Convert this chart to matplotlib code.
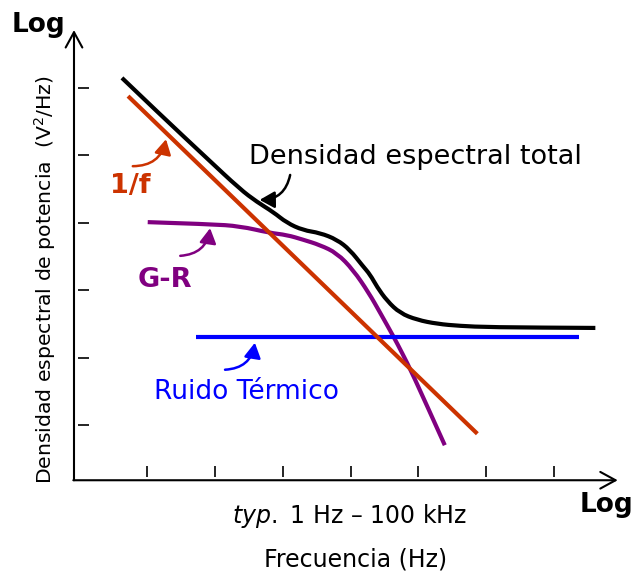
import matplotlib
matplotlib.use('Agg')
import matplotlib.pyplot as plt
from matplotlib.path import Path
from matplotlib.patches import PathPatch

plt.rcParams['font.family'] = ['DejaVu Sans']
plt.rcParams['mathtext.fontset'] = 'dejavusans'

# values in decades (log units)
total_x = [0.63, 1.19, 1.88, 2.37, 2.62, 2.86, 3.06, 3.30, 3.55,
           3.80, 3.99, 4.18, 4.29, 4.39, 4.54, 4.73, 4.98, 5.28, 5.61, 6.06, 7.61]
total_y = [6.15, 5.61, 4.96, 4.50, 4.31, 4.16, 4.00, 3.89, 3.85,
           3.75, 3.60, 3.36, 3.23, 3.05, 2.84, 2.66, 2.56, 2.50, 2.47, 2.45, 2.44]

gr_x = [1.01, 1.93, 2.37, 2.81, 3.06, 3.30, 3.55, 3.80, 4.04, 4.27, 4.44,
        4.63, 4.76, 4.91, 5.39]
gr_y = [4.01, 3.98, 3.95, 3.85, 3.82, 3.75, 3.67, 3.55, 3.30, 2.96, 2.66,
        2.32, 2.07, 1.77, 0.70]

flicker_x = [0.72, 5.87]
flicker_y = [5.88, 0.87]

thermal_x = [1.72, 7.37]
thermal_y = [2.31, 2.31]

x_ticks = [1, 2, 3, 4, 5, 6, 7]
y_ticks = [1, 2, 3, 4, 5, 6]

ORANGE = '#cc3300'
PURPLE = '#800080'
BLUE = '#0000ff'

fig = plt.figure(figsize=(6.33, 5.75), dpi=100)
ax = fig.add_axes([0, 0, 1, 1])
ax.set_xlim(-1.168, 8.165)
ax.set_ylim(-1.226, 7.306)
ax.axis('off')

x0, y0 = -0.077, 0.18   # where the two axes meet
AXIS_ARROW = dict(arrowstyle='->,head_length=0.55,head_width=0.3',
                  lw=1.5, color='black', mutation_scale=20, shrinkA=0, shrinkB=0)
ax.annotate('', xy=(x0, 6.86), xytext=(x0, y0), arrowprops=AXIS_ARROW)
ax.annotate('', xy=(7.94, y0), xytext=(x0 - 0.01, y0), arrowprops=AXIS_ARROW)
ax.vlines(x_ticks, 0.23, 0.39, color='black', lw=1.2)
ax.hlines(y_ticks, -0.018, 0.145, color='black', lw=1.2)


def smooth_curve(xs, ys, color):
    # quadratic bezier through the midpoints, read points act as control points
    verts = [(xs[0], ys[0])]
    codes = [Path.MOVETO]
    for i in range(1, len(xs) - 1):
        verts.append((xs[i], ys[i]))
        verts.append(((xs[i] + xs[i + 1]) / 2, (ys[i] + ys[i + 1]) / 2))
        codes += [Path.CURVE3, Path.CURVE3]
    verts.append((xs[-1], ys[-1]))
    codes.append(Path.LINETO)
    ax.add_patch(PathPatch(Path(verts, codes), fill=False, edgecolor=color,
                           lw=3.0, capstyle='butt', joinstyle='round'))


LINE = dict(lw=3.0, solid_capstyle='butt')
ax.plot(thermal_x, thermal_y, color=BLUE, **LINE)
ax.plot(flicker_x, flicker_y, color=ORANGE, **LINE)
smooth_curve(gr_x, gr_y, PURPLE)
smooth_curve(total_x, total_y, 'black')

ax.text(-0.593, 6.935, 'Log', fontsize=19, fontweight='bold', ha='center', va='center')
ax.text(7.77, -0.19, 'Log', fontsize=19, fontweight='bold', ha='center', va='center')
ax.text(3.98, -0.35, r'$\it{typ.}$ 1 Hz – 100 kHz', fontsize=17, ha='center', va='center')
ax.text(4.08, -1.0, 'Frecuencia (Hz)', fontsize=17, ha='center', va='center')
ax.text(-0.504, 3.15, 'Densidad espectral de potencia  (V$^2$/Hz)', fontsize=14.7,
        rotation=90, ha='center', va='center')

ax.text(4.96, 4.98, 'Densidad espectral total', fontsize=19.5, ha='center', va='center')
ax.text(0.75, 4.55, '1/f', fontsize=19.5, fontweight='bold', color=ORANGE, ha='center', va='center')
ax.text(1.265, 3.15, 'G-R', fontsize=19.5, fontweight='bold', color=PURPLE, ha='center', va='center')
ax.text(2.47, 1.49, 'Ruido Térmico', fontsize=19, color=BLUE, ha='center', va='center')


def pointer(tail, tip, color, rad):
    ax.annotate('', xy=tip, xytext=tail,
                arrowprops=dict(arrowstyle='-|>,head_length=0.5,head_width=0.28',
                                lw=1.8, color=color, mutation_scale=18,
                                shrinkA=0, shrinkB=0,
                                connectionstyle='arc3,rad=%s' % rad))


pointer((0.79, 4.84), (1.28, 5.24), ORANGE, 0.4)
pointer((3.11, 4.71), (2.66, 4.34), 'black', -0.4)
pointer((1.49, 3.51), (1.93, 3.92), PURPLE, 0.4)
pointer((2.15, 1.82), (2.59, 2.22), BLUE, 0.4)

fig.savefig('out.png', dpi=100)
